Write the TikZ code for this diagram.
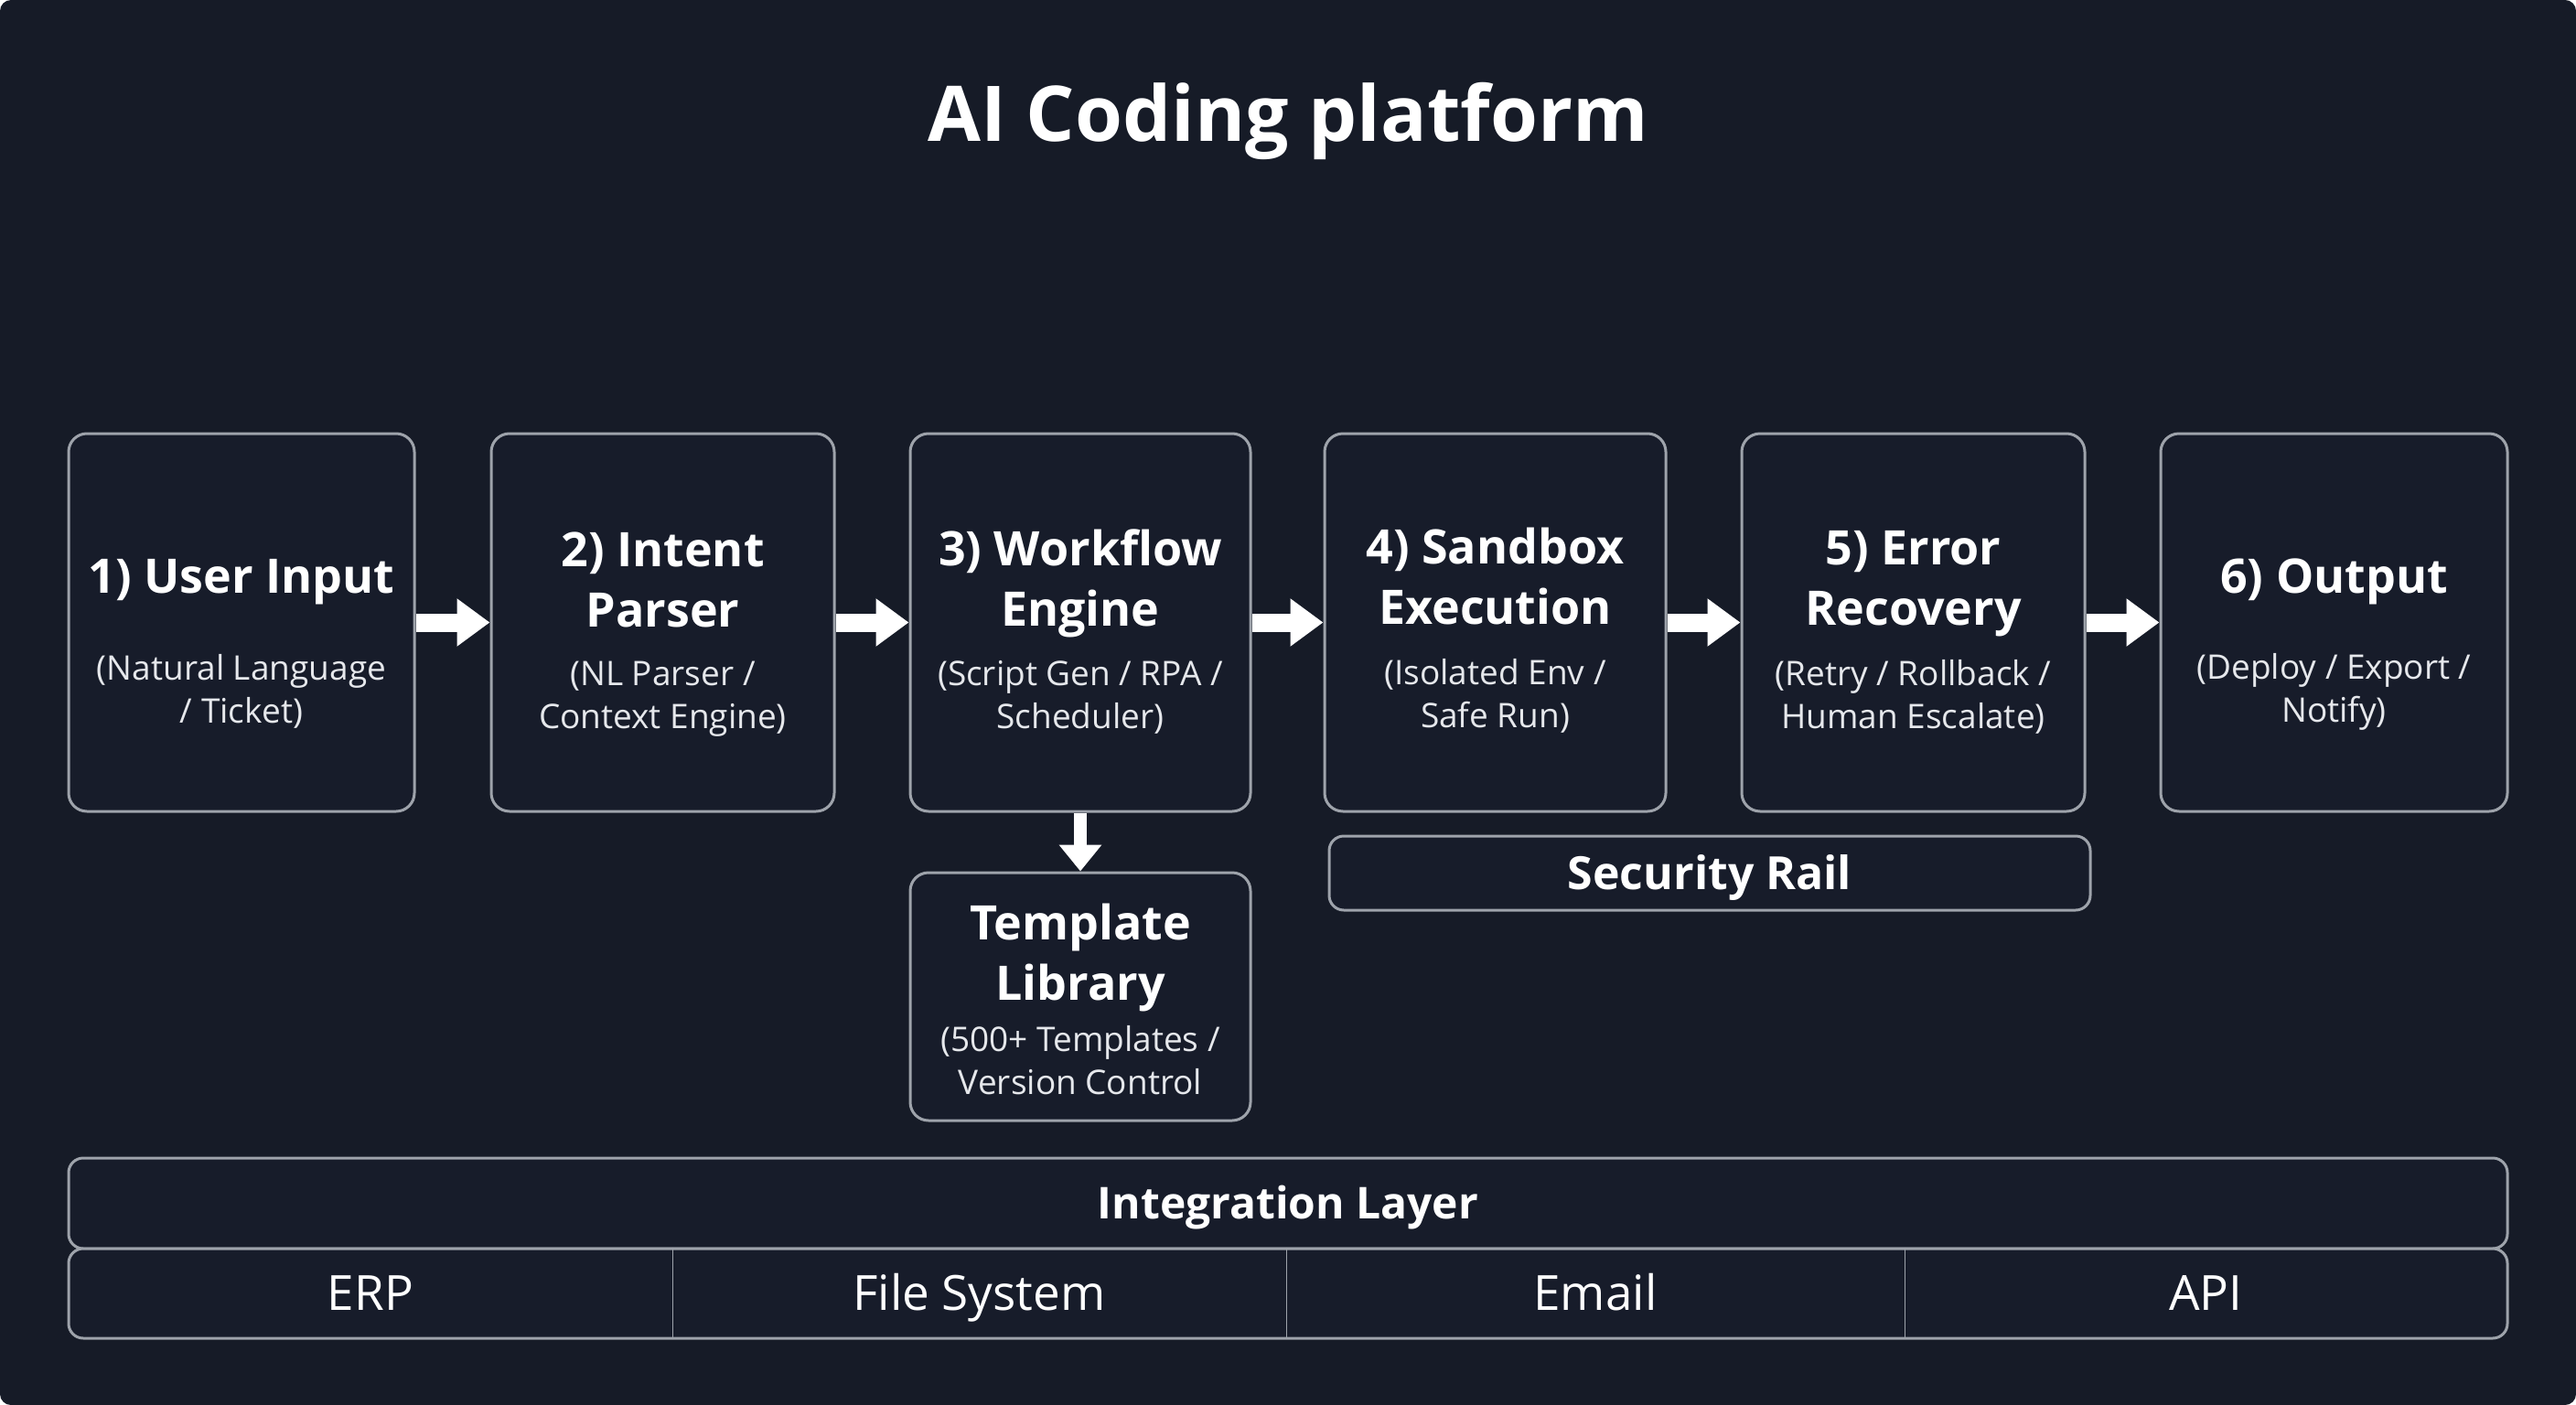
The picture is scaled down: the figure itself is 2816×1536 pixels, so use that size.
\documentclass[tikz,border=0pt]{standalone}
\usepackage{fontspec}
\setmainfont{Open Sans}
\usetikzlibrary{arrows.meta,calc}
\definecolor{bgcol}{HTML}{161B27}
\definecolor{boxfill}{HTML}{171C2A}
\definecolor{bordercol}{HTML}{9EA3AB}
\definecolor{subcol}{HTML}{E6E8EC}
\tikzset{
  x=0.5pt, y=-0.5pt,
  stage/.style={draw=bordercol, line width=1.5pt, rounded corners=10pt, fill=boxfill, inner sep=0pt, minimum height=206.5pt},
  rail/.style={draw=bordercol, line width=1.5pt, rounded corners=8pt, fill=boxfill, inner sep=0pt},
  cell/.style={inner sep=0pt, minimum height=49pt, text=white, text height=18.9pt, text depth=0pt, font=\fontsize{26.5}{30}\selectfont},
  head/.style={text=white, align=center, inner sep=0pt, font=\bfseries\fontsize{26}{33}\selectfont},
  sub/.style={text=subcol, align=center, inner sep=0pt, font=\fontsize{18.5}{23.5}\selectfont},
  railtext/.style={text=white, inner sep=0pt, text height=17.9pt, text depth=0pt, font=\bfseries\fontsize{25}{30}\selectfont},
  flow/.style={draw=white, line width=10pt, -{Triangle[length=18pt,width=25pt]}},
  flowdown/.style={draw=white, line width=7pt, -{Triangle[length=14.5pt,width=22.5pt]}},
  divider/.style={draw=bordercol, line width=0.8pt},
}
\begin{document}
\begin{tikzpicture}
\useasboundingbox (0,0) rectangle (2816,1536);
\fill[white] (0,0) rectangle (2816,1536);
\fill[bgcol, rounded corners=6pt] (0,0) rectangle (2816,1536);

\node[text=white, inner sep=0pt, font=\bfseries\fontsize{42}{48}\selectfont] (title) at (1408,132) {AI Coding platform};

% stage boxes
\node[stage, minimum width=189pt] (b1) at (264,680.5) {};
\node[stage, minimum width=187.5pt] (b2) at (724.5,680.5) {};
\node[stage, minimum width=186pt] (b3) at (1181,680.5) {};
\node[stage, minimum width=186.5pt] (b4) at (1634.5,680.5) {};
\node[stage, minimum width=187.5pt] (b5) at (2091.5,680.5) {};
\node[stage, minimum width=189.5pt] (b6) at (2551.5,680.5) {};

\node[head] (h1) at (264,636) {1) User Input};
\node[sub] (s1) at (264,756) {(Natural Language\\/ Ticket)};
\node[head] (h2) at (724.5,634) {2) Intent\\Parser};
\node[sub] (s2) at (724.5,764) {(NL Parser /\\Context Engine)};
\node[head] (h3) at (1181,638) {3) Workflow\\Engine};
\node[sub] (s3) at (1181,762) {(Script Gen / RPA /\\Scheduler)};
\node[head] (h4) at (1634.5,630) {4) Sandbox\\Execution};
\node[sub] (s4) at (1634.5,761) {(Isolated Env /\\Safe Run)};
\node[head] (h5) at (2091.5,638) {5) Error\\Recovery};
\node[sub] (s5) at (2091.5,762) {(Retry / Rollback /\\Human Escalate)};
\node[head] (h6) at (2551.5,636) {6) Output};
\node[sub] (s6) at (2551.5,756) {(Deploy / Export /\\Notify)};

% template library
\node[stage, minimum width=186pt, minimum height=135.5pt] (tl) at (1181,1089.5) {};
\node[head] (tlh) at (1181,1047) {Template\\Library};
\node[sub] (tls) at (1181,1159) {(500+ Templates /\\Version Control};

% security rail
\node[rail, minimum width=416pt, minimum height=40.5pt] (sr) at (1869,954.5) {};
\node[railtext] (srt) at (sr.center) {Security Rail};

% integration layer
\node[rail, minimum width=1333pt, minimum height=49.5pt] (il) at (1408,1315.5) {};
\node[railtext, text height=17.1pt, font=\bfseries\fontsize{24}{28}\selectfont] (ilt) at (il.center) {Integration Layer};
\node[rail, minimum width=1333pt, minimum height=49pt] (row) at (1408,1414) {};
\node[cell, minimum width=330pt] (c1) at (405,1414) {ERP};
\node[cell, minimum width=335.5pt] (c2) at (1070.5,1414) {File System};
\node[cell, minimum width=338pt] (c3) at (1744,1414) {Email};
\node[cell, minimum width=329.5pt] (c4) at (2411.5,1414) {API};
\draw[divider] (c1.north east) -- (c1.south east);
\draw[divider] (c2.north east) -- (c2.south east);
\draw[divider] (c3.north east) -- (c3.south east);

% arrows
\draw[flow] (b1.east) -- (b2.west);
\draw[flow] (b2.east) -- (b3.west);
\draw[flow] (b3.east) -- (b4.west);
\draw[flow] (b4.east) -- (b5.west);
\draw[flow] (b5.east) -- (b6.west);
\draw[flowdown] (b3.south) -- (tl.north);
\end{tikzpicture}
\end{document}
